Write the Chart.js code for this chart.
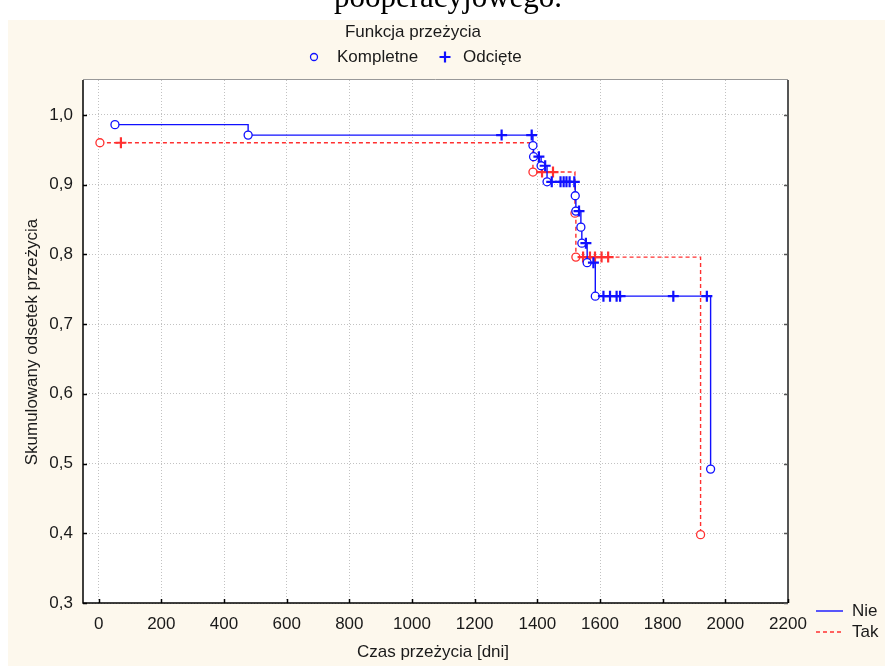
<!DOCTYPE html>
<html>
<head>
<meta charset="utf-8">
<script src="https://cdn.jsdelivr.net/npm/chart.js@4.4.0/dist/chart.umd.min.js"></script>
<style>
  html, body { margin: 0; padding: 0; background: #fff; }
  #wrap { width: 885px; height: 666px; }
</style>
</head>
<body>
<div id="wrap"><canvas id="km" width="885" height="666"></canvas></div>
<script>
// czas przeżycia [dni], skumulowany odsetek przeżycia, 1 = kompletne, 0 = odcięte
const nieTime  = [52, 477, 1286, 1382, 1386, 1388, 1405, 1412, 1425, 1431, 1446, 1474, 1484, 1493, 1503, 1518, 1521, 1523, 1533, 1539, 1542, 1555, 1559, 1579, 1585, 1611, 1632, 1653, 1664, 1834, 1941, 1953];
const nieSurv  = [0.986, 0.971, 0.971, 0.971, 0.956, 0.940, 0.940, 0.927, 0.927, 0.904, 0.904, 0.904, 0.904, 0.904, 0.904, 0.904, 0.884, 0.862, 0.862, 0.839, 0.816, 0.816, 0.788, 0.788, 0.740, 0.740, 0.740, 0.740, 0.740, 0.740, 0.740, 0.492];
const nieEvent = [1, 1, 0, 0, 1, 1, 0, 1, 0, 1, 0, 0, 0, 0, 0, 0, 1, 1, 0, 1, 1, 0, 1, 0, 1, 0, 0, 0, 0, 0, 0, 1];

const takTime  = [4, 71, 1386, 1415, 1450, 1520, 1523, 1546, 1568, 1584, 1605, 1626, 1921];
const takSurv  = [0.960, 0.960, 0.918, 0.918, 0.918, 0.859, 0.796, 0.796, 0.796, 0.796, 0.796, 0.796, 0.398];
const takEvent = [1, 0, 1, 0, 0, 1, 1, 0, 0, 0, 0, 0, 1];

const xTicks = [0, 200, 400, 600, 800, 1000, 1200, 1400, 1600, 1800, 2000, 2200];
const yTicks = [0.3, 0.4, 0.5, 0.6, 0.7, 0.8, 0.9, 1.0];

const BLUE = '#1010ff';
const RED = '#ff3030';
const TXT = '#1a1a1a';
const FONT = '"Liberation Sans", Arial, sans-serif';

function toPoints(t, s) {
    return t.map((x, i) => ({ x: x, y: s[i] }));
}

function kmDataset(label, t, s, ev, color, dash) {
    return {
        label: label,
        data: toPoints(t, s),
        stepped: 'before',
        borderColor: color,
        borderWidth: 1.4,
        borderDash: dash,
        fill: false,
        pointStyle: ev.map(e => e ? 'circle' : 'cross'),
        pointRadius: ev.map(e => e ? 4 : 5.5),
        pointBorderWidth: ev.map(e => e ? 1.3 : 2.2),
        pointBorderColor: color,
        pointBackgroundColor: '#fff'
    };
}

const decor = {
    id: 'decor',
    beforeDraw(chart) {
        const { ctx, chartArea: a } = chart;
        ctx.save();
        ctx.fillStyle = '#fff';
        ctx.fillRect(0, 0, chart.width, chart.height);
        ctx.fillStyle = '#fdf8ed';
        ctx.fillRect(8, 20, chart.width - 8, chart.height - 20);
        ctx.fillStyle = '#fff';
        ctx.fillRect(a.left, a.top, a.right - a.left, a.bottom - a.top);
        ctx.restore();
    },
    afterDatasetsDraw(chart) {
        const { ctx, chartArea: a, scales } = chart;
        ctx.save();
        // ramka wykresu
        ctx.strokeStyle = '#999';
        ctx.lineWidth = 1;
        ctx.beginPath();
        ctx.moveTo(a.left, a.top - 0.5);
        ctx.lineTo(a.right, a.top - 0.5);
        ctx.stroke();
        ctx.strokeStyle = '#555';
        ctx.lineWidth = 2;
        ctx.beginPath();
        ctx.moveTo(a.right, a.top);
        ctx.lineTo(a.right, a.bottom);
        ctx.stroke();
        ctx.strokeStyle = '#000';
        ctx.lineWidth = 1.5;
        ctx.beginPath();
        ctx.moveTo(a.left, a.top);
        ctx.lineTo(a.left, a.bottom);
        ctx.lineTo(a.right, a.bottom);
        ctx.stroke();
        // znaczniki skierowane do wnętrza
        ctx.lineWidth = 1.5;
        yTicks.forEach(v => {
            const y = Math.round(scales.y.getPixelForValue(v)) + 0.5;
            ctx.strokeStyle = '#000';
            ctx.beginPath(); ctx.moveTo(a.left, y); ctx.lineTo(a.left + 4, y); ctx.stroke();
            ctx.strokeStyle = '#555';
            ctx.beginPath(); ctx.moveTo(a.right, y); ctx.lineTo(a.right - 4, y); ctx.stroke();
        });
        ctx.strokeStyle = '#000';
        xTicks.forEach(v => {
            const x = Math.round(scales.x.getPixelForValue(v)) + 0.5;
            ctx.beginPath(); ctx.moveTo(x, a.bottom); ctx.lineTo(x, a.bottom - 4); ctx.stroke();
        });
        ctx.restore();
    },
    afterDraw(chart) {
        const ctx = chart.ctx;
        ctx.save();
        ctx.fillStyle = '#000';
        ctx.font = '31px "Liberation Serif", "Times New Roman", serif';
        ctx.textAlign = 'center';
        ctx.textBaseline = 'alphabetic';
        ctx.fillText('pooperacyjowego.', 448, 7);

        ctx.fillStyle = TXT;
        ctx.font = '17px ' + FONT;
        ctx.textBaseline = 'middle';
        ctx.fillText('Funkcja przeżycia', 413, 32);
        ctx.fillText('Czas przeżycia [dni]', 433, 652);

        ctx.textAlign = 'left';
        ctx.fillText('Kompletne', 337, 57);
        ctx.fillText('Odcięte', 463, 57);
        ctx.strokeStyle = BLUE;
        ctx.lineWidth = 1.3;
        ctx.beginPath(); ctx.arc(314, 57, 3.5, 0, Math.PI * 2); ctx.stroke();
        ctx.lineWidth = 2.2;
        ctx.beginPath();
        ctx.moveTo(439.5, 57); ctx.lineTo(450.5, 57);
        ctx.moveTo(445, 51.5); ctx.lineTo(445, 62.5);
        ctx.stroke();

        // legenda grup
        ctx.lineWidth = 1.4;
        ctx.strokeStyle = BLUE;
        ctx.beginPath(); ctx.moveTo(816, 611); ctx.lineTo(843, 611); ctx.stroke();
        ctx.strokeStyle = RED;
        ctx.setLineDash([4, 3]);
        ctx.beginPath(); ctx.moveTo(816, 632); ctx.lineTo(843, 632); ctx.stroke();
        ctx.setLineDash([]);
        ctx.fillText('Nie', 852, 611);
        ctx.fillText('Tak', 852, 632);

        ctx.translate(32, 342);
        ctx.rotate(-Math.PI / 2);
        ctx.textAlign = 'center';
        ctx.fillText('Skumulowany odsetek przeżycia', 0, 0);
        ctx.restore();
    }
};

new Chart(document.getElementById('km'), {
    type: 'line',
    data: {
        datasets: [
            kmDataset('Nie', nieTime, nieSurv, nieEvent, BLUE, []),
            kmDataset('Tak', takTime, takSurv, takEvent, RED, [4, 3])
        ]
    },
    options: {
        responsive: false,
        animation: false,
        layout: { padding: { left: 0, top: 80, right: 97, bottom: 0 } },
        plugins: { legend: { display: false }, tooltip: { enabled: false } },
        scales: {
            x: {
                type: 'linear',
                min: -50,
                max: 2200,
                afterBuildTicks: s => { s.ticks = xTicks.map(v => ({ value: v })); },
                afterFit: s => { s.height = 63; },
                grid: { color: '#c2c2c2', drawTicks: false },
                border: { display: false, dash: [1, 2] },
                ticks: {
                    padding: 11,
                    color: TXT,
                    autoSkip: false,
                    maxRotation: 0,
                    font: { family: FONT, size: 17 },
                    callback: v => String(v)
                }
            },
            y: {
                min: 0.3,
                max: 1.05,
                afterBuildTicks: s => { s.ticks = yTicks.map(v => ({ value: v })); },
                afterFit: s => { s.width = 83; },
                grid: { color: '#c2c2c2', drawTicks: false },
                border: { display: false, dash: [1, 2] },
                ticks: {
                    padding: 10,
                    color: TXT,
                    font: { family: FONT, size: 17 },
                    callback: v => v.toFixed(1).replace('.', ',')
                }
            }
        }
    },
    plugins: [decor]
});
</script>
</body>
</html>
